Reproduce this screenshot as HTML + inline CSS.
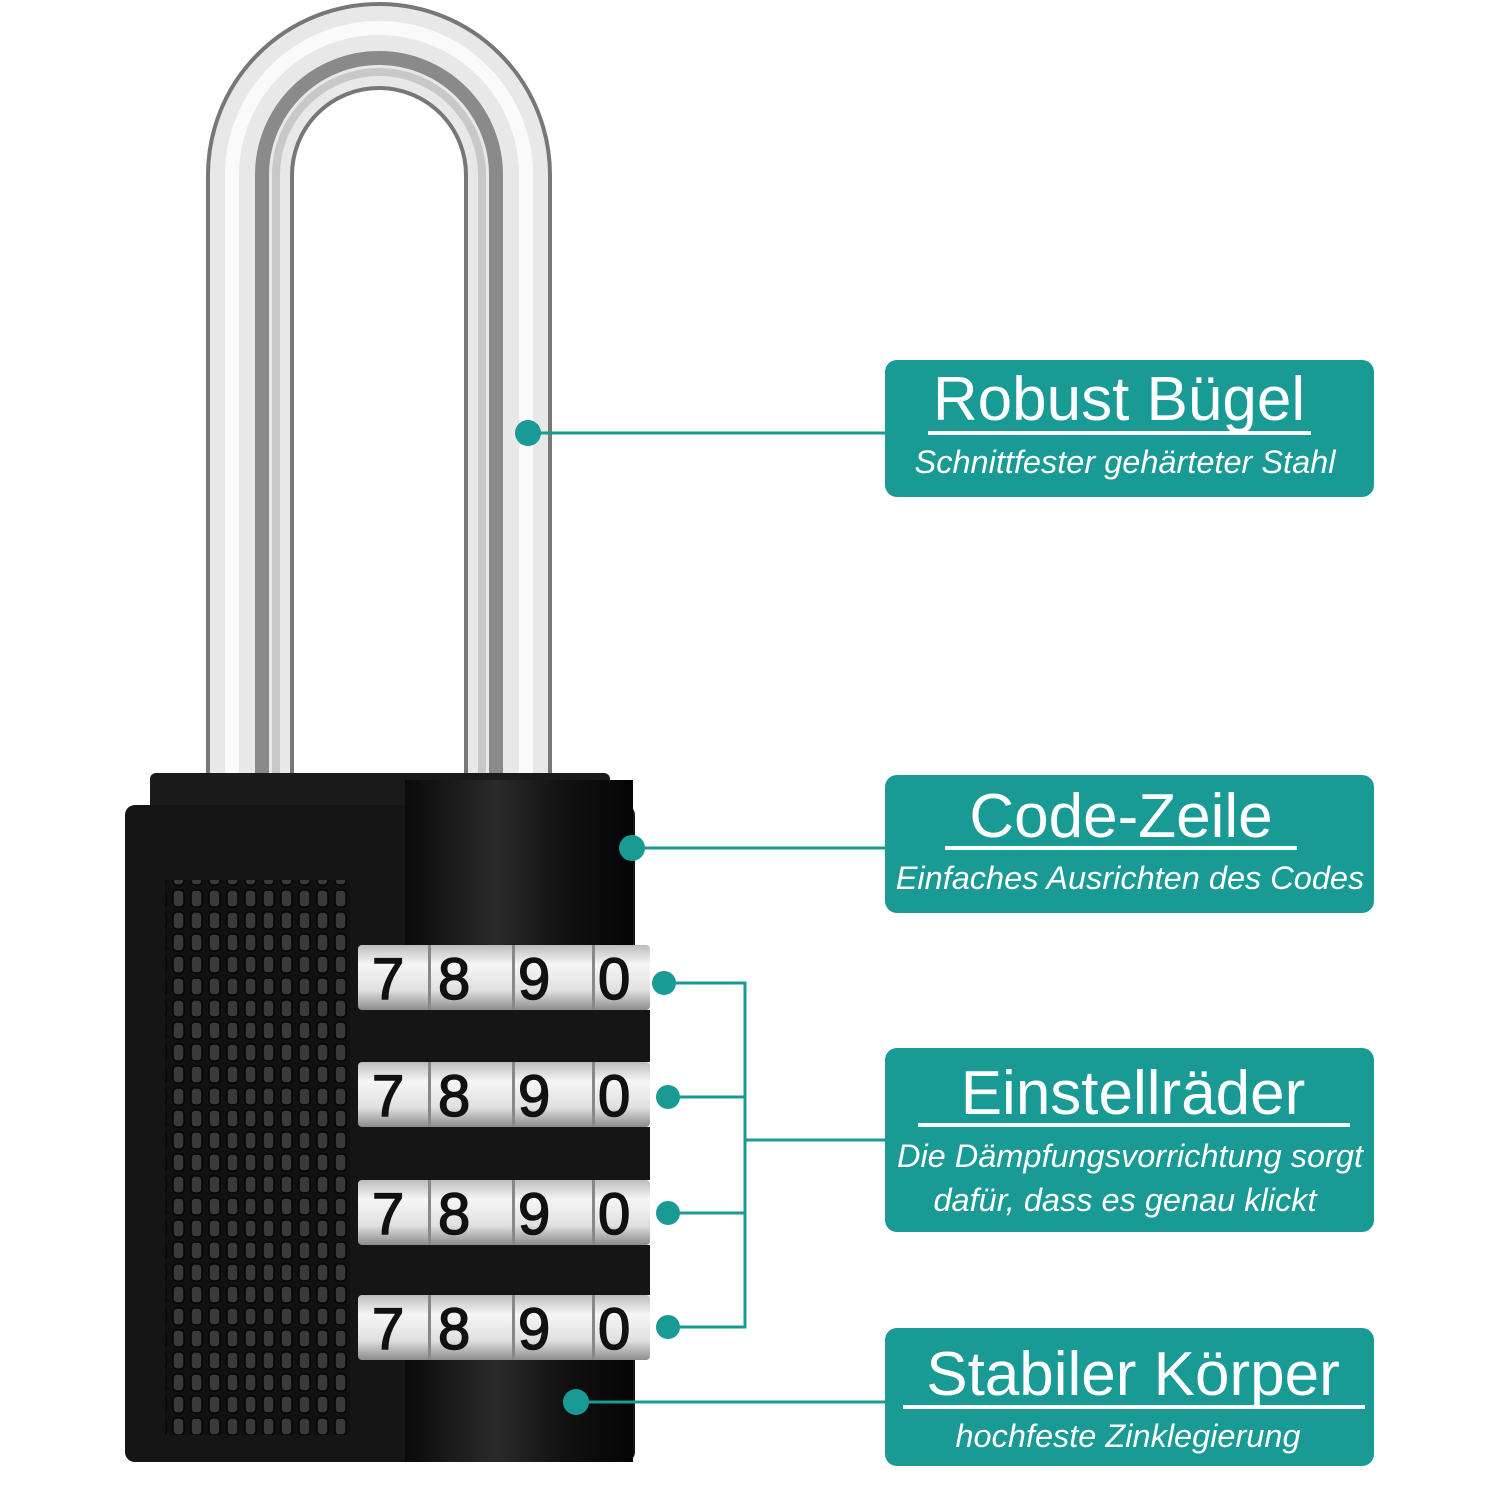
<!DOCTYPE html>
<html><head><meta charset="utf-8"><style>
html,body{margin:0;padding:0;background:#fff}
svg{display:block}
text{font-family:"Liberation Sans",sans-serif;fill:#fff}
.t{font-size:62px}
.s{font-size:32.5px;font-style:italic}
.d{font-size:58px;fill:#111;stroke:#111;stroke-width:1.5;font-family:"Liberation Sans",sans-serif}
</style></head><body>
<svg width="1500" height="1500" viewBox="0 0 1500 1500" xmlns="http://www.w3.org/2000/svg">
<defs>
<linearGradient id="dial" x1="0" x2="0" y1="0" y2="1">
<stop offset="0" stop-color="#bdbdbd"/><stop offset=".3" stop-color="#f6f6f6"/><stop offset=".7" stop-color="#e0e0e0"/><stop offset="1" stop-color="#8c8c8c"/>
</linearGradient>
<linearGradient id="cyl" x1="0" x2="1">
<stop offset="0" stop-color="#0a0a0a"/><stop offset=".4" stop-color="#2a2a2a"/><stop offset=".7" stop-color="#111"/><stop offset="1" stop-color="#050505"/>
</linearGradient>
<pattern id="dots" x="170" y="888" width="18" height="22" patternUnits="userSpaceOnUse">
<rect x="3" y="2" width="11" height="17" rx="4" fill="#3a3a3a" stroke="#050505" stroke-width="1.5"/>
</pattern>
</defs>
<!-- shackle -->
<path d="M250 790 V175 A129 129 0 0 1 508 175 V790" fill="none" stroke="#777" stroke-width="88"/>
<path d="M250 790 V175 A129 129 0 0 1 508 175 V790" fill="none" stroke="#e8e8e8" stroke-width="80"/>
<path d="M232 790 V175 A147 147 0 0 1 526 175 V790" fill="none" stroke="#fafafa" stroke-width="14"/>
<path d="M262 790 V175 A117 117 0 0 1 496 175 V790" fill="none" stroke="#8a8a8a" stroke-width="14"/>
<path d="M276 790 V175 A103 103 0 0 1 482 175 V790" fill="none" stroke="#c8c8c8" stroke-width="8"/>
<!-- body -->
<rect x="150" y="773" width="460" height="50" rx="6" fill="#1a1a1a"/>
<rect x="125" y="805" width="510" height="657" rx="10" fill="#151515"/>
<rect x="405" y="780" width="228" height="682" fill="url(#cyl)"/>
<rect x="165" y="880" width="185" height="555" fill="#111"/>
<rect x="165" y="880" width="185" height="555" fill="url(#dots)"/>
<!-- dials -->
<g>
<rect x="358" y="945" width="292" height="65" rx="4" fill="url(#dial)"/>
<rect x="358" y="1062" width="292" height="65" rx="4" fill="url(#dial)"/>
<rect x="358" y="1180" width="292" height="65" rx="4" fill="url(#dial)"/>
<rect x="358" y="1295" width="292" height="65" rx="4" fill="url(#dial)"/>
<g fill="#888"><rect x="428" y="945" width="3" height="415"/><rect x="512" y="945" width="3" height="415"/><rect x="592" y="945" width="3" height="415"/></g>
<rect x="358" y="1010" width="292" height="52" fill="#151515"/>
<rect x="358" y="1127" width="292" height="53" fill="#151515"/>
<rect x="358" y="1245" width="292" height="50" fill="#151515"/>
<text class="d" x="372" y="999">7</text><text class="d" x="438" y="999">8</text><text class="d" x="518" y="999">9</text><text class="d" x="598" y="999">0</text>
<text class="d" x="372" y="1116">7</text><text class="d" x="438" y="1116">8</text><text class="d" x="518" y="1116">9</text><text class="d" x="598" y="1116">0</text>
<text class="d" x="372" y="1234">7</text><text class="d" x="438" y="1234">8</text><text class="d" x="518" y="1234">9</text><text class="d" x="598" y="1234">0</text>
<text class="d" x="372" y="1349">7</text><text class="d" x="438" y="1349">8</text><text class="d" x="518" y="1349">9</text><text class="d" x="598" y="1349">0</text>
</g>
<!-- connectors -->
<g stroke="#1a9a94" stroke-width="3" fill="none">
<line x1="528" y1="433" x2="886" y2="433"/>
<line x1="632" y1="848" x2="886" y2="848"/>
<polyline points="664,983 745,983 745,1327 668,1327"/>
<line x1="668" y1="1097" x2="745" y2="1097"/>
<line x1="668" y1="1213" x2="745" y2="1213"/>
<line x1="745" y1="1140" x2="886" y2="1140"/>
<line x1="576" y1="1402" x2="886" y2="1402"/>
</g>
<g fill="#1a9a94">
<circle cx="528" cy="433" r="13"/><circle cx="632" cy="848" r="13"/>
<circle cx="664" cy="983" r="12"/><circle cx="668" cy="1097" r="12"/><circle cx="668" cy="1213" r="12"/><circle cx="668" cy="1327" r="12"/>
<circle cx="576" cy="1402" r="13"/>
<rect x="885" y="360" width="489" height="137" rx="12"/>
<rect x="885" y="775" width="489" height="138" rx="12"/>
<rect x="885" y="1048" width="489" height="184" rx="12"/>
<rect x="885" y="1328" width="489" height="138" rx="12"/>
</g>
<g fill="#fff">
<rect x="928" y="431" width="383" height="4"/>
<rect x="945" y="846" width="352" height="4"/>
<rect x="918" y="1123" width="432" height="4"/>
<rect x="903" y="1405" width="462" height="4"/>
</g>
<text class="t" x="1119" y="420" text-anchor="middle">Robust Bügel</text>
<text class="s" x="1125" y="473" text-anchor="middle">Schnittfester gehärteter Stahl</text>
<text class="t" x="1121" y="837" text-anchor="middle">Code-Zeile</text>
<text class="s" x="1130" y="889" text-anchor="middle">Einfaches Ausrichten des Codes</text>
<text class="t" x="1133" y="1114" text-anchor="middle">Einstellräder</text>
<text class="s" x="1130" y="1167" text-anchor="middle">Die Dämpfungsvorrichtung sorgt</text>
<text class="s" x="1125" y="1211" text-anchor="middle">dafür, dass es genau klickt</text>
<text class="t" x="1133" y="1395" text-anchor="middle">Stabiler Körper</text>
<text class="s" x="1128" y="1447" text-anchor="middle">hochfeste Zinklegierung</text>
</svg>
</body></html>
